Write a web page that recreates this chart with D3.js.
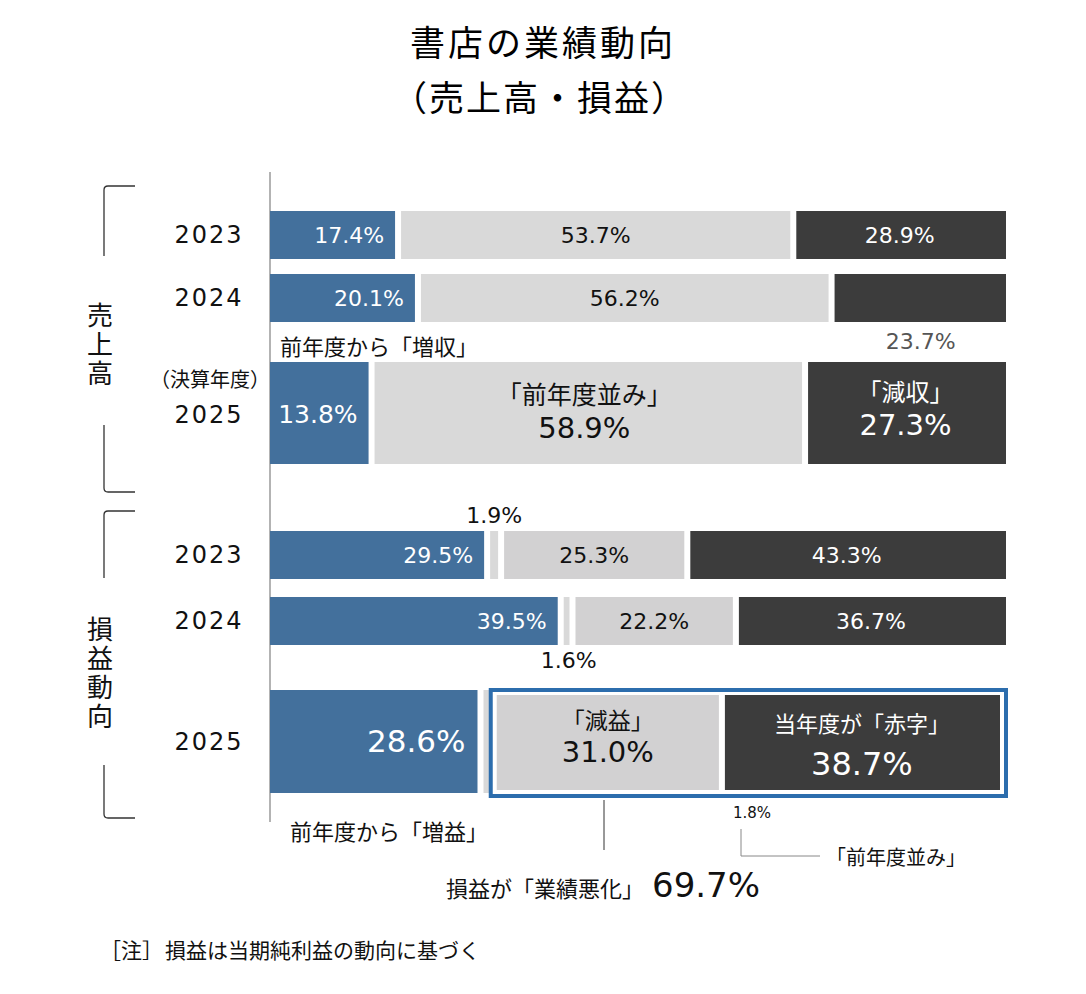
<!DOCTYPE html>
<html lang="ja">
<head>
<meta charset="UTF-8">
<title>書店の業績動向</title>
<script src="https://cdn.jsdelivr.net/npm/d3@7/dist/d3.min.js"></script>
<style>
  body { margin: 0; background: #fff; }
  text { font-family: "Noto Sans CJK JP", "Noto Sans", sans-serif; }
  text.num { font-family: "DejaVu Sans", sans-serif; }
</style>
</head>
<body>
<script>
// データ
var years = ["2023", "2024", "2025"];
var salesUp = [17.4, 20.1, 13.8];     // 増収
var salesFlat = [53.7, 56.2, 58.9];   // 前年度並み
var salesDown = [28.9, 23.7, 27.3];   // 減収
var profitUp = [29.5, 39.5, 28.6];    // 増益
var profitFlat = [1.9, 1.6, 1.8];     // 前年度並み
var profitDown = [25.3, 22.2, 31.0];  // 減益
var profitRed = [43.3, 36.7, 38.7];   // 赤字

var width = 1086, height = 994;
var colBlue = "#43709c", colLight = "#d9d9d9", colGray = "#d2d1d2", colDark = "#3c3c3c";
var gap = 6;

var svg = d3.select("body").append("svg")
    .attr("width", width)
    .attr("height", height);

var x = d3.scaleLinear().domain([0, 100]).range([270, 1006]);

// 行の配置
var rows = [
    {key: "s", i: 0, y: 211, h: 48},
    {key: "s", i: 1, y: 274, h: 48},
    {key: "s", i: 2, y: 362, h: 102},
    {key: "p", i: 0, y: 531, h: 48},
    {key: "p", i: 1, y: 597, h: 48},
    {key: "p", i: 2, y: 690, h: 103}
];

function rowValues(r) {
    if (r.key === "s") return [salesUp[r.i], salesFlat[r.i], salesDown[r.i]];
    return [profitUp[r.i], profitFlat[r.i], profitDown[r.i], profitRed[r.i]];
}
function rowColors(r) {
    if (r.key === "s") return [colBlue, colLight, colDark];
    return [colBlue, colLight, colGray, colDark];
}

// タイトル
svg.append("text").attr("x", 543).attr("y", 40)
    .attr("text-anchor", "middle").attr("dominant-baseline", "central")
    .style("font-size", "35px").style("letter-spacing", "3px")
    .text("書店の業績動向");
svg.append("text").attr("x", 540).attr("y", 95)
    .attr("text-anchor", "middle").attr("dominant-baseline", "central")
    .style("font-size", "35px").style("letter-spacing", "2px")
    .text("（売上高・損益）");

// 縦軸線
svg.append("line")
    .attr("x1", 270).attr("x2", 270).attr("y1", 172).attr("y2", 822)
    .attr("stroke", "#9a9a9a").attr("stroke-width", 1.5);

// 棒
var boxed = rows[5];
rows.forEach(function (r) {
    var vals = rowValues(r), cols = rowColors(r);
    var cum = 0;
    var segs = vals.map(function (v, k) {
        var s = {x0: x(cum), x1: x(Math.min(100, cum + v)), v: v, c: cols[k], k: k};
        cum += v;
        return s;
    });
    r.segs = segs;
    svg.append("g").selectAll("rect")
        .data(segs)
        .enter()
        .append("rect")
        .attr("x", function (d) {
            if (d.k === 0) return d.x0;
            return d.x0 + gap / 2;
        })
        .attr("width", function (d) {
            var a = d.k === 0 ? d.x0 : d.x0 + gap / 2;
            var b = d.k === segs.length - 1 ? d.x1 : d.x1 - gap / 2;
            if (r === boxed && d.k === segs.length - 1) b = d.x1 - 6;
            return Math.max(1, b - a);
        })
        .attr("y", function (d) {
            return (r === boxed && d.k >= 2) ? r.y + 5 : r.y;
        })
        .attr("height", function (d) {
            return (r === boxed && d.k >= 2) ? r.h - 8 : r.h;
        })
        .attr("fill", function (d) { return d.c; });
});

// 2025 損益の枠
var bs = boxed.segs;
svg.append("rect")
    .attr("x", bs[2].x0 - 3)
    .attr("y", boxed.y)
    .attr("width", bs[3].x1 - bs[2].x0 + 3)
    .attr("height", boxed.h + 3)
    .attr("fill", "none")
    .attr("stroke", "#2c6dad")
    .attr("stroke-width", 4);

function label(px, py, txt, size, color, anchor) {
    return svg.append("text")
        .attr("x", px).attr("y", py)
        .attr("text-anchor", anchor || "middle")
        .attr("dominant-baseline", "central")
        .style("font-size", size + "px")
        .attr("fill", color || "#111")
        .text(txt);
}
function num(px, py, v, size, color, anchor) {
    return label(px, py, v.toFixed(1) + "%", size, color, anchor).attr("class", "num");
}
function mid(s) { return (s.x0 + s.x1) / 2; }

// 年ラベル
rows.forEach(function (r) {
    label(209, r.y + r.h / 2 + (r.key === "s" && r.i === 2 ? 2 : 0), years[r.i], 24, "#111")
        .attr("class", "num").style("letter-spacing", "2px");
});
label(210, 378, "（決算年度）", 20, "#111");

// 売上高 2023, 2024
[0, 1].forEach(function (i) {
    var r = rows[i], s = r.segs;
    num(s[0].x1 - 14, r.y + r.h / 2, salesUp[i], 22, "#fff", "end");
    num(mid(s[1]), r.y + r.h / 2, salesFlat[i], 22, "#111");
});
num(mid(rows[0].segs[2]), rows[0].y + 24, salesDown[0], 22, "#fff");
num(mid(rows[1].segs[2]) + 2, 341, salesDown[1], 22, "#555");
label(280, 345, "前年度から「増収」", 22, "#111", "start");

// 売上高 2025
var r3 = rows[2];
num(r3.segs[0].x1 - 14, 414, salesUp[2], 25, "#fff", "end");
label(mid(r3.segs[1]) - 4, 393, "「前年度並み」", 25, "#111");
num(mid(r3.segs[1]) - 4, 428, salesFlat[2], 29, "#111");
label(mid(r3.segs[2]), 390, "「減収」", 24, "#fff");
num(mid(r3.segs[2]), 425, salesDown[2], 29, "#fff");

// 損益 2023, 2024
[3, 4].forEach(function (ri) {
    var r = rows[ri], s = r.segs, i = r.i;
    num(s[0].x1 - 14, r.y + r.h / 2, profitUp[i], 22, "#fff", "end");
    num(mid(s[2]), r.y + r.h / 2, profitDown[i], 22, "#111");
    num(mid(s[3]), r.y + r.h / 2, profitRed[i], 22, "#fff");
});
num(mid(rows[3].segs[1]), 515, profitFlat[0], 22, "#111");
num(mid(rows[4].segs[1]) + 2, 660, profitFlat[1], 22, "#111");

// 損益 2025
num(bs[0].x1 - 15, 741, profitUp[2], 31, "#fff", "end");
label(mid(bs[2]), 719, "「減益」", 23, "#111");
num(mid(bs[2]), 752, profitDown[2], 29, "#111");
label(mid(bs[3]) - 2, 722, "当年度が「赤字」", 22, "#fff");
num(mid(bs[3]) - 2, 764, profitRed[2], 32, "#fff");
label(290, 830, "前年度から「増益」", 22, "#111", "start");

// 業績悪化の注記
var worse = profitDown[2] + profitRed[2];
svg.append("line")
    .attr("x1", 604).attr("x2", 604).attr("y1", 800).attr("y2", 850)
    .attr("stroke", "#333").attr("stroke-width", 1);
label(644, 887, "損益が「業績悪化」", 22, "#111", "end");
num(652, 885, worse, 34, "#111", "start");

// 1.8% 前年度並み
num(752, 813, profitFlat[2], 15, "#111");
svg.append("path")
    .attr("d", "M741,829V856H820")
    .attr("fill", "none").attr("stroke", "#888").attr("stroke-width", 1);
label(826, 856, "「前年度並み」", 20, "#111", "start");

// グループの括弧
function bracket(yTop, yTopEnd, yBotStart, yBot) {
    svg.append("path")
        .attr("d", "M135," + yTop + "H108Q104," + yTop + " 104," + (yTop + 4) + "V" + yTopEnd)
        .attr("fill", "none").attr("stroke", "#333").attr("stroke-width", 1.3);
    svg.append("path")
        .attr("d", "M104," + yBotStart + "V" + (yBot - 4) + "Q104," + yBot + " 108," + yBot + "H135")
        .attr("fill", "none").attr("stroke", "#333").attr("stroke-width", 1.3);
}
bracket(186, 256, 425, 492);
bracket(511, 578, 765, 818);

// グループ名（縦書き）
function vlabel(px, yCenter, txt) {
    svg.append("text")
        .attr("x", px).attr("y", yCenter)
        .attr("text-anchor", "middle")
        .style("writing-mode", "vertical-rl")
        .style("font-size", "26px")
        .style("letter-spacing", "3px")
        .attr("fill", "#111")
        .text(txt);
}
vlabel(100, 346, "売上高");
vlabel(100, 674, "損益動向");

// 注
label(100, 949, "［注］", 21, "#111", "start");
label(165, 949, "損益は当期純利益の動向に基づく", 21, "#111", "start");
</script>
</body>
</html>
